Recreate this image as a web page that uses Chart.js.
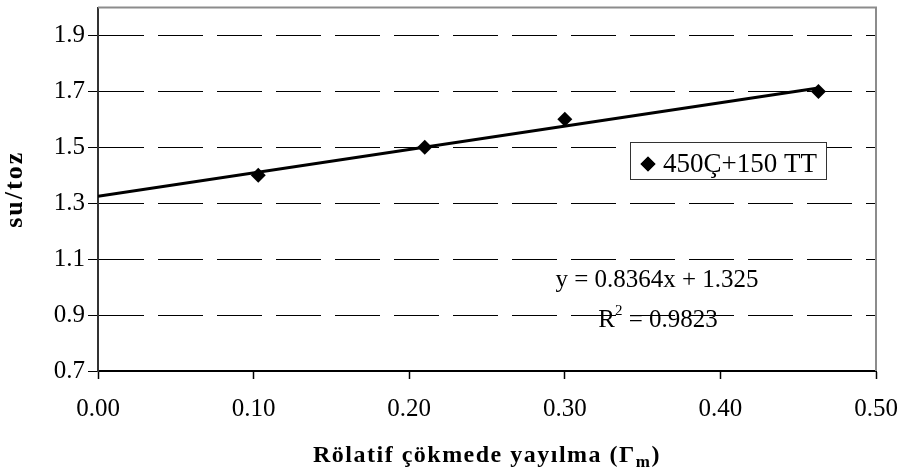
<!DOCTYPE html>
<html lang="tr">
<head>
  <meta charset="UTF-8" />
  <title>su/toz - Rölatif çökmede yayılma</title>
  <script src="https://cdn.jsdelivr.net/npm/chart.js"></script>
  <style>
    body { margin: 0; background: #fff; }
    .chart-box { width: 906px; height: 475px; }
  </style>
</head>
<body>
  <div class="chart-box"><canvas id="chart"></canvas></div>

  <script>
    // data
    const seriesLabel = "450Ç+150 TT";
    const xValues = [0.103, 0.21, 0.30, 0.463];
    const yValues = [1.40, 1.50, 1.60, 1.70];
    const xTicks = [0, 0.1, 0.2, 0.3, 0.4, 0.5];
    const yTicks = [0.7, 0.9, 1.1, 1.3, 1.5, 1.7, 1.9];
    const trendSlope = 0.8364;
    const trendIntercept = 1.325;
    const trendFrom = 0;
    const trendTo = 0.463;
    const equationText = "y = 0.8364x + 1.325";
    const r2Text = "0.9823";
    const xTitle = "Rölatif çökmede yayılma (Γ";
    const xTitleSub = "m";
    const yTitle = "su/toz";

    const serif = "'Liberation Serif', 'Times New Roman', serif";

    const points = xValues.map((x, i) => ({ x: x, y: yValues[i] }));
    const trend = [trendFrom, trendTo].map(x => ({ x: x, y: trendSlope * x + trendIntercept }));

    // frame, legend box, equation and axis titles
    const extras = {
      id: "extras",
      afterDraw(chart) {
        const ctx = chart.ctx;
        const a = chart.chartArea;
        ctx.save();

        // light top/right frame
        ctx.strokeStyle = "#8c8c8c";
        ctx.lineWidth = 2;
        ctx.beginPath();
        ctx.moveTo(a.left, a.top);
        ctx.lineTo(a.right, a.top);
        ctx.lineTo(a.right, a.bottom);
        ctx.stroke();

        // legend
        const lx = 630, ly = 142, lw = 196, lh = 37;
        ctx.fillStyle = "#fff";
        ctx.fillRect(lx, ly, lw, lh);
        ctx.strokeStyle = "#333";
        ctx.lineWidth = 1;
        ctx.strokeRect(lx + 0.5, ly + 0.5, lw, lh);
        ctx.fillStyle = "#000";
        Chart.helpers.drawPoint(ctx, { pointStyle: "rectRot", radius: 7.5, borderWidth: 0 }, lx + 18, ly + 22);
        ctx.fill();
        ctx.font = "27px " + serif;
        ctx.textBaseline = "alphabetic";
        ctx.textAlign = "left";
        ctx.fillText(seriesLabel, lx + 33, ly + 30);

        // trendline equation
        ctx.font = "25px " + serif;
        ctx.textAlign = "center";
        ctx.fillText(equationText, 657, 287);
        ctx.textAlign = "left";
        const rest = " = " + r2Text;
        const wR = ctx.measureText("R").width;
        const wRest = ctx.measureText(rest).width;
        ctx.font = "15px " + serif;
        const w2 = ctx.measureText("2").width;
        let sx = 658 - (wR + w2 + wRest) / 2;
        ctx.font = "25px " + serif;
        ctx.fillText("R", sx, 327);
        ctx.font = "15px " + serif;
        ctx.fillText("2", sx + wR, 315);
        ctx.font = "25px " + serif;
        ctx.fillText(rest, sx + wR + w2, 327);

        // x title with subscript
        ctx.font = "bold 24px " + serif;
        ctx.letterSpacing = "1.5px";
        const wMain = ctx.measureText(xTitle).width;
        const wClose = ctx.measureText(")").width;
        ctx.font = "bold 17px " + serif;
        const wSub = ctx.measureText(xTitleSub).width;
        let tx = (a.left + a.right) / 2 - (wMain + wSub + wClose) / 2;
        ctx.font = "bold 24px " + serif;
        ctx.fillText(xTitle, tx, 462);
        ctx.font = "bold 17px " + serif;
        ctx.fillText(xTitleSub, tx + wMain, 467);
        ctx.font = "bold 24px " + serif;
        ctx.fillText(")", tx + wMain + wSub, 462);

        // y title
        ctx.translate(15, (a.top + a.bottom) / 2);
        ctx.rotate(-Math.PI / 2);
        ctx.textAlign = "center";
        ctx.textBaseline = "middle";
        ctx.letterSpacing = "2px";
        ctx.font = "bold 26px " + serif;
        ctx.fillText(yTitle, 0, 0);

        ctx.restore();
      }
    };

    new Chart(document.getElementById("chart"), {
      type: "scatter",
      data: {
        datasets: [
          {
            label: seriesLabel,
            data: points,
            pointStyle: "rectRot",
            pointRadius: 7.5,
            pointHoverRadius: 7.5,
            pointBackgroundColor: "#000",
            pointBorderWidth: 0,
            showLine: false
          },
          {
            label: "trend",
            data: trend,
            showLine: true,
            borderColor: "#000",
            borderWidth: 3,
            pointRadius: 0,
            fill: false
          }
        ]
      },
      options: {
        responsive: true,
        maintainAspectRatio: false,
        animation: false,
        layout: { padding: { top: 5, right: 30, left: 0, bottom: 0 } },
        plugins: {
          legend: { display: false },
          tooltip: { enabled: false }
        },
        scales: {
          x: {
            type: "linear",
            min: 0,
            max: 0.5,
            afterBuildTicks: axis => { axis.ticks = xTicks.map(v => ({ value: v })); },
            afterFit: axis => {
              axis.height = 104;
              axis.paddingLeft = 0;
              axis.paddingRight = 0;
            },
            ticks: {
              callback: v => v.toFixed(2),
              color: "#000",
              font: { family: serif, size: 25 },
              padding: 15,
              maxRotation: 0
            },
            grid: {
              drawOnChartArea: false,
              drawTicks: true,
              tickLength: 8,
              color: "#000",
              tickWidth: 1.5
            },
            border: { color: "#000", width: 2 }
          },
          y: {
            min: 0.7,
            max: 2.0,
            afterBuildTicks: axis => { axis.ticks = yTicks.map(v => ({ value: v })); },
            afterFit: axis => {
              axis.width = 98;
              axis.paddingTop = 0;
              axis.paddingBottom = 0;
            },
            ticks: {
              callback: v => v.toFixed(1),
              color: "#000",
              font: { family: serif, size: 25 },
              padding: 3
            },
            grid: {
              color: "#000",
              lineWidth: 1,
              drawTicks: true,
              tickLength: 10,
              tickBorderDash: []
            },
            border: { color: "#333", width: 2, dash: [45, 14] }
          }
        }
      },
      plugins: [extras]
    });
  </script>
</body>
</html>
